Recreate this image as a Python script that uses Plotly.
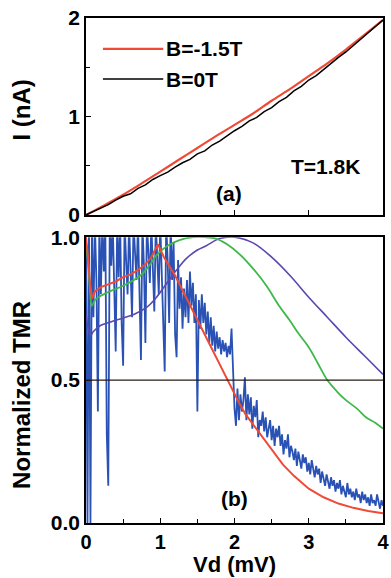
import plotly.graph_objects as go
from plotly.subplots import make_subplots

# ---------------- data: panel (a) I-V ----------------
iv_red_v = [0, 0.25, 0.5, 0.75, 1.0, 1.25, 1.5, 1.75, 2.0, 2.25, 2.5, 2.75, 3.0, 3.25, 3.5, 3.75, 4.0]
iv_red_i = [0, 0.10, 0.205, 0.32, 0.44, 0.56, 0.68, 0.80, 0.915, 1.03, 1.16, 1.28, 1.41, 1.54, 1.68, 1.83, 1.98]

iv_blk_v = [round(0.1 * k, 2) for k in range(41)]
iv_blk_i = [0.00, 0.035, 0.07, 0.105, 0.15, 0.19, 0.215, 0.27, 0.305, 0.36,
            0.40, 0.435, 0.485, 0.53, 0.565, 0.62, 0.65, 0.71, 0.75, 0.805,
            0.855, 0.90, 0.955, 0.99, 1.05, 1.09, 1.15, 1.195, 1.26, 1.305,
            1.37, 1.415, 1.48, 1.535, 1.60, 1.655, 1.72, 1.78, 1.845, 1.91, 1.98]

# ---------------- data: panel (b) normalized TMR ----------------
tmr_step = 0.02
tmr_blue = [
    1.00, 0.00, 1.05, 0.00, 1.05, 0.72, 1.05, 0.85, 0.39, 1.05,
    0.80, 1.05, 0.88, 1.05, 0.31, 0.13, 1.05, 0.90, 1.05, 0.78,
    0.60, 1.05, 0.86, 1.05, 0.70, 0.55, 1.05, 0.92, 0.80, 1.05,
    0.88, 0.72, 1.05, 0.95, 0.85, 1.05, 0.82, 0.57, 1.05, 0.90,
    0.63, 1.05, 0.95, 0.84, 1.05, 0.88, 0.74, 1.05, 0.93, 0.80,
    1.05, 0.90, 0.70, 0.53, 1.05, 0.92, 0.70, 1.05, 0.85, 0.98,
    0.66, 0.58, 0.92, 0.75, 0.86, 0.68, 0.82, 0.72, 0.85, 0.70,
    0.88, 0.76, 0.84, 0.70, 0.80, 0.39, 0.78, 0.68, 0.80, 0.70,
    0.77, 0.66, 0.74, 0.63, 0.72, 0.62, 0.69, 0.60, 0.67, 0.61,
    0.65, 0.59, 0.64, 0.60, 0.63, 0.58, 0.62, 0.59, 0.68, 0.55,
    0.40, 0.34, 0.47, 0.36, 0.45, 0.39, 0.43, 0.51, 0.36, 0.45,
    0.38, 0.44, 0.33, 0.41, 0.37, 0.43, 0.30, 0.36, 0.34, 0.39,
    0.32, 0.37, 0.30, 0.33, 0.36, 0.29, 0.34, 0.27, 0.33, 0.30,
    0.34, 0.27, 0.31, 0.24, 0.29, 0.26, 0.31, 0.23, 0.27, 0.25,
    0.22, 0.26, 0.20, 0.25, 0.22, 0.19, 0.24, 0.21, 0.23, 0.18,
    0.21, 0.17, 0.22, 0.18, 0.16, 0.20, 0.17, 0.19, 0.14, 0.18,
    0.16, 0.13, 0.17, 0.14, 0.12, 0.16, 0.13, 0.15, 0.11, 0.14,
    0.12, 0.15, 0.10, 0.13, 0.11, 0.09, 0.14, 0.10, 0.12, 0.09,
    0.11, 0.08, 0.12, 0.09, 0.10, 0.07, 0.11, 0.08, 0.10, 0.07,
    0.09, 0.06, 0.10, 0.07, 0.08, 0.06, 0.10, 0.07, 0.05, 0.08,
    0.06,
]
tmr_blue_v = [round(k * tmr_step, 2) for k in range(len(tmr_blue))]

tmr_red_v = [0, 0.02, 0.05, 0.08, 0.12, 0.2, 0.3, 0.4, 0.5, 0.6, 0.7, 0.8, 0.88, 0.97,
             1.05, 1.2, 1.35, 1.5, 1.65, 1.8, 1.9, 2.0, 2.07, 2.15, 2.25, 2.4, 2.5, 2.65,
             2.8, 3.0, 3.2, 3.4, 3.6, 3.8, 4.0]
tmr_red = [1.0, 0.95, 0.85, 0.785, 0.81, 0.825, 0.835, 0.845, 0.86, 0.87, 0.885, 0.905, 0.93, 0.975,
           0.93, 0.866, 0.788, 0.71, 0.632, 0.554, 0.50, 0.45, 0.416, 0.38, 0.345, 0.29, 0.255, 0.205,
           0.165, 0.12, 0.09, 0.068, 0.053, 0.042, 0.034]

tmr_green_v = [0, 0.02, 0.05, 0.08, 0.12, 0.2, 0.36, 0.5, 0.73, 0.85, 0.96, 1.1, 1.26, 1.45,
               1.6, 1.75, 1.9, 2.07, 2.25, 2.43, 2.6, 2.74, 2.87, 3.0, 3.12, 3.25, 3.38, 3.5,
               3.65, 3.77, 3.9, 4.0]
tmr_green = [0.97, 0.93, 0.83, 0.76, 0.78, 0.795, 0.815, 0.83, 0.865, 0.90, 0.94, 0.97, 0.99, 1.0,
             1.0, 0.995, 0.975, 0.94, 0.89, 0.83, 0.76, 0.71, 0.66, 0.615, 0.56, 0.50, 0.46, 0.43,
             0.40, 0.37, 0.35, 0.33]

tmr_purple_v = [0, 0.03, 0.06, 0.1, 0.19, 0.35, 0.5, 0.65, 0.82, 0.95, 1.09, 1.22, 1.35, 1.5,
                1.62, 1.8, 2.0, 2.25, 2.5, 2.75, 3.0, 3.25, 3.5, 3.75, 4.0]
tmr_purple = [0.73, 0.68, 0.655, 0.67, 0.69, 0.705, 0.717, 0.73, 0.755, 0.79, 0.84, 0.885, 0.925, 0.955,
              0.97, 0.995, 1.0, 0.98, 0.93, 0.865, 0.79, 0.72, 0.65, 0.585, 0.52]

x_ticks = [0, 1, 2, 3, 4]
ya_ticks = [0, 1, 2]
yb_ticks = [0, 0.5, 1.0]
yb_ticktext = ["0.0", "0.5", "1.0"]

# ---------------- figure ----------------
FONT = "Liberation Sans"
RED = "#ef4a36"
BLUE = "#2a52b5"
GREEN = "#3fb84a"
PURPLE = "#5a48b0"

fig = make_subplots(rows=2, cols=1)

fig.add_trace(go.Scatter(x=iv_red_v, y=iv_red_i, mode="lines", line=dict(color=RED, width=2.2),
                         line_shape="spline", showlegend=False), row=1, col=1)
fig.add_trace(go.Scatter(x=iv_blk_v, y=iv_blk_i, mode="lines", line=dict(color="black", width=1.5),
                         showlegend=False), row=1, col=1)

fig.add_trace(go.Scatter(x=tmr_blue_v, y=tmr_blue, mode="lines", line=dict(color=BLUE, width=1.8),
                         showlegend=False), row=2, col=1)
fig.add_trace(go.Scatter(x=tmr_purple_v, y=tmr_purple, mode="lines", line=dict(color=PURPLE, width=1.6),
                         line_shape="spline", showlegend=False), row=2, col=1)
fig.add_trace(go.Scatter(x=tmr_green_v, y=tmr_green, mode="lines", line=dict(color=GREEN, width=1.8),
                         line_shape="spline", showlegend=False), row=2, col=1)
fig.add_trace(go.Scatter(x=tmr_red_v, y=tmr_red, mode="lines", line=dict(color=RED, width=2.0),
                         showlegend=False), row=2, col=1)

tickfont = dict(family=FONT, size=21, color="black", weight="bold")
axis_common = dict(showline=True, linecolor="black", linewidth=1.5, mirror=True,
                   showgrid=False, zeroline=False, ticks="inside", ticklen=5,
                   tickcolor="black", tickwidth=1.2, automargin=False)

fig.update_layout(
    width=391, height=578,
    margin=dict(l=86, r=8, t=18, b=55, autoexpand=False),
    paper_bgcolor="white", plot_bgcolor="white",
    xaxis=dict(domain=[0, 1], range=[0, 4], tickvals=[1, 2, 3], showticklabels=False,
               anchor="y", tickfont=tickfont, **axis_common),
    yaxis=dict(domain=[0.61, 1.0], range=[0, 2], tickvals=ya_ticks, tickfont=tickfont,
               minor=dict(tickvals=[0.5, 1.5], ticks="inside", ticklen=4, tickcolor="black"),
               anchor="x", **axis_common),
    xaxis2=dict(domain=[0, 1], range=[0, 4], tickvals=x_ticks,
                tickfont=dict(family=FONT, size=20, color="black", weight="bold"),
                minor=dict(tickvals=[0.5, 1.5, 2.5, 3.5], ticks="inside", ticklen=4, tickcolor="black"),
                anchor="y2", **axis_common),
    yaxis2=dict(domain=[0, 0.566], range=[0, 1], tickvals=yb_ticks, ticktext=yb_ticktext,
                tickfont=tickfont, anchor="x2", **axis_common),
)

# horizontal reference line at 0.5
fig.add_shape(type="line", xref="x2 domain", yref="y2", x0=0, x1=1, y0=0.5, y1=0.5,
              line=dict(color="#2a1a14", width=1.2))

# legend drawn inside panel (a)
fig.add_shape(type="line", xref="x domain", yref="y domain", x0=0.057, x1=0.26, y0=0.843, y1=0.843,
              line=dict(color=RED, width=2.2))
fig.add_shape(type="line", xref="x domain", yref="y domain", x0=0.057, x1=0.26, y0=0.69, y1=0.69,
              line=dict(color="black", width=1.5))

txt = dict(family=FONT, size=21, color="black", weight="bold")
ann = [
    dict(text="B=-1.5T", xref="x domain", yref="y domain", x=0.262, y=0.843, xanchor="left", yanchor="middle"),
    dict(text="B=0T", xref="x domain", yref="y domain", x=0.262, y=0.69, xanchor="left", yanchor="middle"),
    dict(text="T=1.8K", xref="x domain", yref="y domain", x=0.807, y=0.244, xanchor="center", yanchor="middle"),
    dict(text="(a)", xref="x domain", yref="y domain", x=0.483, y=0.107, xanchor="center", yanchor="middle"),
    dict(text="(b)", xref="x2 domain", yref="y2 domain", x=0.5, y=0.087, xanchor="center", yanchor="middle"),
]
for a in ann:
    fig.add_annotation(showarrow=False, font=txt, **a)

title_font = dict(family=FONT, size=24, color="black", weight="bold")
fig.add_annotation(text="I (nA)", xref="paper", yref="y domain", x=0, xshift=-64, y=0.53,
                   textangle=-90, xanchor="center", yanchor="middle", showarrow=False, font=title_font)
fig.add_annotation(text="Normalized TMR", xref="paper", yref="y2 domain", x=0, xshift=-64, y=0.448,
                   textangle=-90, xanchor="center", yanchor="middle", showarrow=False, font=title_font)
fig.add_annotation(text="Vd (mV)", xref="x2 domain", yref="paper", x=0.5, y=0, yshift=-54.5,
                   xanchor="center", yanchor="bottom", showarrow=False, borderpad=0,
                   font=dict(family=FONT, size=22, color="black", weight="bold"))

fig.write_html("out.html", config={"displayModeBar": False},
               post_script="document.body.style.margin='0';document.body.style.overflow='hidden';")
